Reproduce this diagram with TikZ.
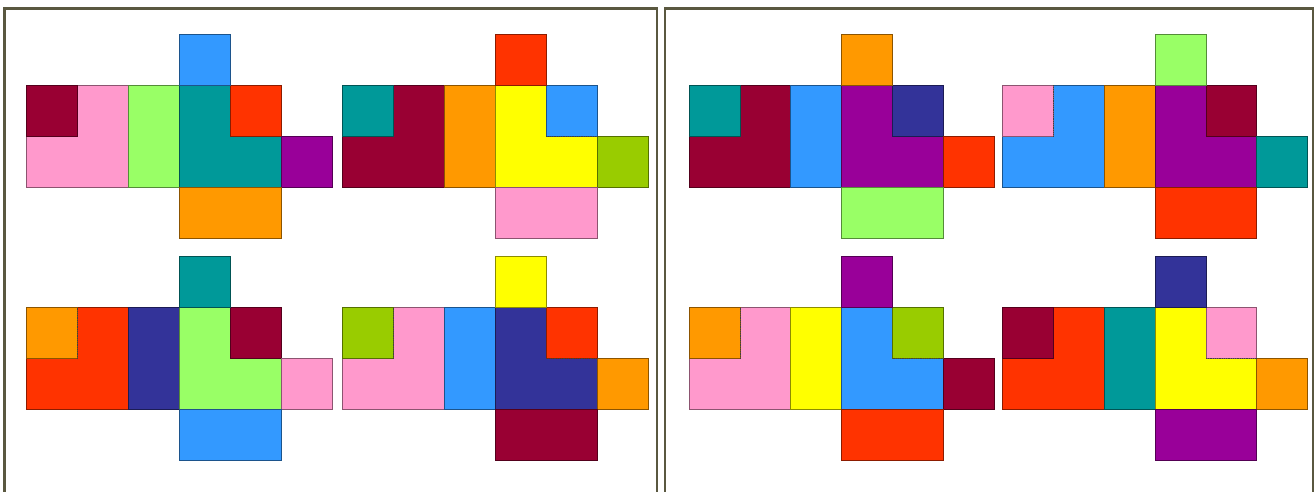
\documentclass[tikz,border=0pt]{standalone}
\definecolor{cdred}{HTML}{990033}
\definecolor{cpink}{HTML}{FF99CC}
\definecolor{clgreen}{HTML}{99FF66}
\definecolor{cteal}{HTML}{009999}
\definecolor{cred}{HTML}{FF3300}
\definecolor{cblue}{HTML}{3399FF}
\definecolor{cpurple}{HTML}{990099}
\definecolor{corange}{HTML}{FF9900}
\definecolor{cyellow}{HTML}{FFFF00}
\definecolor{cygreen}{HTML}{99CC00}
\definecolor{cnavy}{HTML}{333399}
\definecolor{framecol}{HTML}{5A5840}
\tikzset{
  piece/.style={fill=#1, draw=#1!55!black, line width=0.8pt},
  frame/.style={draw=framecol, line width=2.4pt},
  seam/.style={draw=black!75, densely dotted, line width=0.8pt}
}
\newcommand\cubenet[9]{%
  \begin{scope}[shift={(#1)}, x=50.9pt, y=-50.9pt]
    \path[piece=#2] (0,1) rectangle (2,3);
    \path[piece=#3] (0,1) rectangle (1,2);
    \path[piece=#4] (2,1) rectangle (3,3);
    \path[piece=#5] (3,1) rectangle (5,3);
    \path[piece=#6] (4,1) rectangle (5,2);
    \path[piece=#7] (3,0) rectangle (4,1);
    \path[piece=#8] (5,2) rectangle (6,3);
    \path[piece=#9] (3,3) rectangle (5,4);
  \end{scope}}
\newcommand\seamLeft[1]{\draw[seam, shift={(#1)}, x=50.9pt, y=-50.9pt] (1,1) -- (1,2);}
\newcommand\seamRight[1]{\draw[seam, shift={(#1)}, x=50.9pt, y=-50.9pt] (4,2) -- (5,2);}
\begin{document}
\begin{tikzpicture}[x=1pt, y=-1pt]
  \useasboundingbox (0,0) rectangle (1316,492);
  \fill[white] (0,0) rectangle (1316,492);
  % panel frames
  \draw[frame] (4.5,492) -- (4.5,8.5) -- (657,8.5) -- (657,492);
  \draw[frame] (665,492) -- (665,8.5) -- (1313,8.5) -- (1313,492);
  % left panel
  \cubenet{26.7,34.4}{cpink}{cdred}{clgreen}{cteal}{cred}{cblue}{cpurple}{corange}
  \cubenet{342.7,34.4}{cdred}{cteal}{corange}{cyellow}{cblue}{cred}{cygreen}{cpink}
  \seamRight{342.7,34.4}
  \cubenet{26.7,256.7}{cred}{corange}{cnavy}{clgreen}{cdred}{cteal}{cpink}{cblue}
  \seamLeft{26.7,256.7}
  \cubenet{342.7,256.7}{cpink}{cygreen}{cblue}{cnavy}{cred}{cyellow}{corange}{cdred}
  \seamLeft{342.7,256.7}
  \seamRight{342.7,256.7}
  % right panel
  \cubenet{689,34.4}{cdred}{cteal}{cblue}{cpurple}{cnavy}{corange}{cred}{clgreen}
  \cubenet{1002.3,34.4}{cblue}{cpink}{corange}{cpurple}{cdred}{clgreen}{cteal}{cred}
  \seamLeft{1002.3,34.4}
  \cubenet{689,256.7}{cpink}{corange}{cyellow}{cblue}{cygreen}{cpurple}{cdred}{cred}
  \seamLeft{689,256.7}
  \seamRight{689,256.7}
  \cubenet{1002.3,256.7}{cred}{cdred}{cteal}{cyellow}{cpink}{cnavy}{corange}{cpurple}
  \seamRight{1002.3,256.7}
\end{tikzpicture}
\end{document}
